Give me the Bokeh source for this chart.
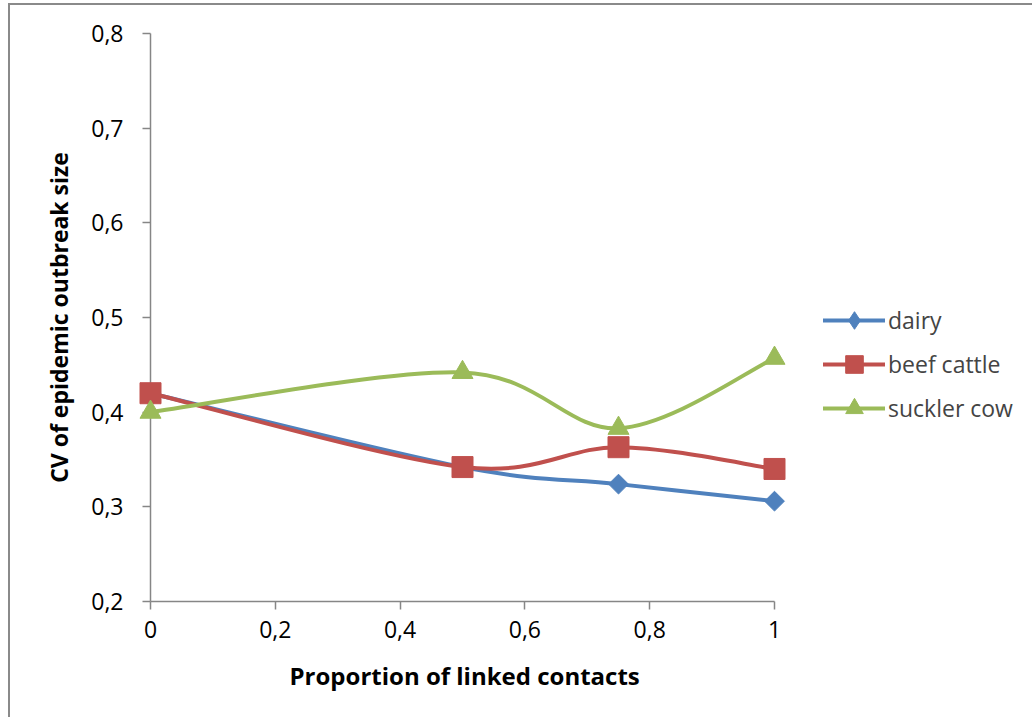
import numpy as np
from bokeh.plotting import figure
from bokeh.models import FixedTicker, Legend, LegendItem, ColumnDataSource, Range1d, Title
from bokeh.embed import file_html
from bokeh.resources import INLINE

# ---- data ----
x_vals = [0, 0.5, 0.75, 1]
dairy = [0.420, 0.342, 0.324, 0.306]
beef_cattle = [0.420, 0.342, 0.363, 0.340]
suckler_cow = [0.400, 0.442, 0.383, 0.457]
series_names = ["dairy", "beef cattle", "suckler cow"]
x_ticks = [0, 0.2, 0.4, 0.6, 0.8, 1]
x_tick_labels = ["0", "0,2", "0,4", "0,6", "0,8", "1"]
y_ticks = [0.2, 0.3, 0.4, 0.5, 0.6, 0.7, 0.8]
y_tick_labels = ["0,2", "0,3", "0,4", "0,5", "0,6", "0,7", "0,8"]
x_title = "Proportion of linked contacts"
y_title = "CV of epidemic outbreak size"

colors = ["#4F81BD", "#C0504D", "#9BBB59"]
FONT = "Open Sans"

# layout (pixels)
CANVAS_W, CANVAS_H = 1024, 714
LEFT, RIGHT, TOP, BOTTOM = 140, 2, 28, 118
AXIS_LEN_PX = 624          # pixel length of the 0..1 x axis
frame_w = CANVAS_W - LEFT - RIGHT
x_end = frame_w / AXIS_LEN_PX   # frame extends right to hold the legend


def smooth_segments(xs, ys):
    """Excel-like smoothed line: cubic Bezier segments (Catmull-Rom control points)."""
    n = len(xs)
    d = dict(x0=[], y0=[], x1=[], y1=[], cx0=[], cy0=[], cx1=[], cy1=[])
    for i in range(n - 1):
        xp, yp = (xs[i - 1], ys[i - 1]) if i > 0 else (xs[i], ys[i])
        xn, yn = (xs[i + 2], ys[i + 2]) if i + 2 < n else (xs[i + 1], ys[i + 1])
        d["x0"].append(xs[i]); d["y0"].append(ys[i])
        d["x1"].append(xs[i + 1]); d["y1"].append(ys[i + 1])
        d["cx0"].append(xs[i] + (xs[i + 1] - xp) / 6.0)
        d["cy0"].append(ys[i] + (ys[i + 1] - yp) / 6.0)
        d["cx1"].append(xs[i + 1] - (xn - xs[i]) / 6.0)
        d["cy1"].append(ys[i + 1] - (yn - ys[i]) / 6.0)
    return ColumnDataSource(d)


p = figure(width=CANVAS_W, height=CANVAS_H,
           x_range=Range1d(0, x_end), y_range=Range1d(0.2, 0.8),
           output_backend="svg", toolbar_location=None,
           min_border_left=LEFT, min_border_right=RIGHT,
           min_border_top=TOP, min_border_bottom=BOTTOM)
p.styles = {"border-left": "2px solid #8a8a8a", "border-top": "2px solid #8a8a8a",
            "margin-top": "3px", "margin-left": "8px"}

p.outline_line_color = None
p.xgrid.visible = False
p.ygrid.visible = False
p.background_fill_color = "white"
p.border_fill_color = "white"

for ax in (p.xaxis[0], p.yaxis[0]):
    ax.axis_line_color = "#868686"
    ax.axis_line_width = 1.5
    ax.major_tick_line_color = "#868686"
    ax.major_tick_line_width = 1.5
    ax.major_tick_in = 0
    ax.major_tick_out = 8
    ax.minor_tick_line_color = None
    ax.major_label_text_font = FONT
    ax.major_label_text_font_size = "23px"
    ax.major_label_text_color = "black"
    ax.axis_label_text_font = FONT
    ax.axis_label_text_font_size = "23px"
    ax.axis_label_text_font_style = "bold"
    ax.axis_label_text_color = "black"

p.xaxis.bounds = (0, 1)
p.xaxis.ticker = FixedTicker(ticks=x_ticks)
p.xaxis.major_label_overrides = dict(zip(x_ticks, x_tick_labels))
p.yaxis.ticker = FixedTicker(ticks=y_ticks)
p.yaxis.major_label_overrides = dict(zip(y_ticks, y_tick_labels))
p.yaxis.axis_label = y_title
p.xaxis.major_label_standoff = 11
p.yaxis.major_label_standoff = 19
p.yaxis.axis_label_standoff = 13

# x-axis title, centred under the 0..1 axis (not under the wider frame)
p.add_layout(Title(text=x_title, align="left", offset=139, standoff=33,
                   text_font=FONT, text_font_size="24px", text_font_style="bold",
                   text_color="black"), "below")

markers = [("square", 14, np.pi / 4), ("square", 21, 0), ("triangle", 21, 0)]
items = []
for name, ys, col, (mk, sz, ang) in zip(series_names, [dairy, beef_cattle, suckler_cow], colors, markers):
    src = smooth_segments(x_vals, ys)
    r_line = p.bezier(x0="x0", y0="y0", x1="x1", y1="y1", cx0="cx0", cy0="cy0",
                      cx1="cx1", cy1="cy1", source=src, line_color=col, line_width=4,
                      line_cap="round")
    r_pts = p.scatter(x_vals, ys, marker=mk, size=sz, angle=ang, fill_color=col,
                      line_color=col, line_width=1, level="overlay")
    legend_rs = [r_line, r_pts]
    if ang != 0:
        # legend glyphs ignore the angle: show a diamond there instead
        r_leg = p.scatter(x_vals, ys, marker="diamond", size=sz, fill_color=col,
                          line_color=col, visible=False)
        legend_rs = [r_line, r_leg]
    items.append(LegendItem(label=name, renderers=legend_rs))

legend = Legend(items=items, location=(673, 171), padding=0, margin=0, spacing=0,
                glyph_width=62, glyph_height=44, label_standoff=3,
                label_text_font=FONT, label_text_font_size="23px",
                border_line_color=None, background_fill_alpha=0)
p.add_layout(legend)

open("out.html", "w").write(file_html(p, INLINE))
